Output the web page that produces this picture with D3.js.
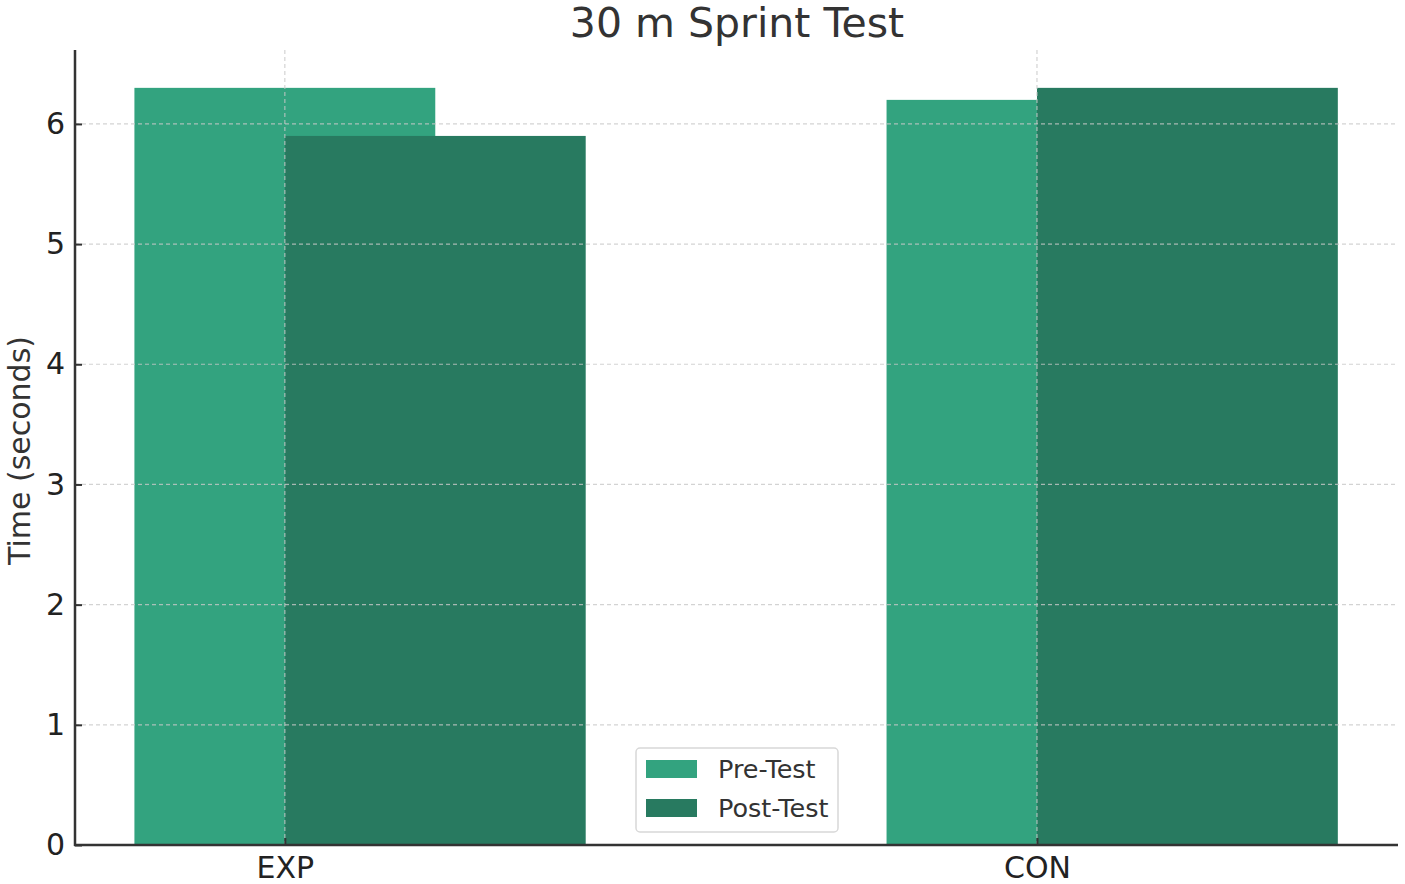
<!DOCTYPE html>
<html>
<head>
<meta charset="utf-8">
<script src="https://cdn.jsdelivr.net/npm/d3@7"></script>
<style>
  body { margin: 0; background: #fff; }
  text { font-family: "DejaVu Sans", sans-serif; }
</style>
</head>
<body>
<script>
const groups = ["EXP", "CON"];
const preTest = [6.3, 6.2];
const postTest = [5.9, 6.3];
const yTicks = [0, 1, 2, 3, 4, 5, 6];
const seriesNames = ["Pre-Test", "Post-Test"];
const colors = ["#33a37f", "#287a60"];

const w = 1405, h = 884;
const plotL = 75, plotR = 1398, plotT = 50, plotB = 845;

const svg = d3.select("body").append("svg")
  .attr("width", w).attr("height", h);

// categories at index 0,1 ; bar width 0.4, second series shifted by half a bar
const barW = 0.4;
const x = d3.scaleLinear().domain([-0.279, 1.48]).range([plotL, plotR]);
const y = d3.scaleLinear().domain([0, 6.615]).range([plotB, plotT]);

const series = [preTest, postTest];
series.forEach((vals, s) => {
  svg.append("g").selectAll("rect")
    .data(vals)
    .enter().append("rect")
    .attr("x", (d, i) => x(i - barW / 2 + s * barW / 2))
    .attr("width", x(barW) - x(0))
    .attr("y", d => y(d))
    .attr("height", d => y(0) - y(d))
    .attr("fill", colors[s]);
});

// grid on top of bars
const grid = svg.append("g");
grid.selectAll("line.h").data(yTicks.slice(1)).enter().append("line")
  .attr("x1", plotL).attr("x2", plotR)
  .attr("y1", d => y(d)).attr("y2", d => y(d))
  .attr("stroke", "#c8c8c8").attr("stroke-opacity", 0.8)
  .attr("stroke-width", 1.2).attr("stroke-dasharray", "4,3");
grid.selectAll("line.v").data(groups).enter().append("line")
  .attr("x1", (d, i) => x(i)).attr("x2", (d, i) => x(i))
  .attr("y1", plotT).attr("y2", plotB)
  .attr("stroke", "#c8c8c8").attr("stroke-opacity", 0.8)
  .attr("stroke-width", 1.2).attr("stroke-dasharray", "4,3");

// axes with inward ticks
const yAxis = d3.axisLeft(y).tickValues(yTicks).tickFormat(d3.format("d"))
  .tickSize(-7).tickPadding(10);
const gy = svg.append("g").attr("transform", `translate(${plotL},0)`).call(yAxis);
gy.select(".domain").remove();
gy.selectAll("text").attr("font-size", 30).attr("fill", "#222")
  .attr("font-family", "DejaVu Sans");
gy.selectAll("line").attr("stroke", "#333").attr("stroke-width", 2);

const xAxis = d3.axisBottom(x).tickValues([0, 1]).tickFormat((d) => groups[d])
  .tickSize(-7).tickPadding(12);
const gx = svg.append("g").attr("transform", `translate(0,${plotB})`).call(xAxis);
gx.select(".domain").remove();
gx.selectAll("text").attr("font-size", 30).attr("fill", "#222")
  .attr("font-family", "DejaVu Sans");
gx.selectAll("line").attr("stroke", "#333").attr("stroke-width", 2);

// spines
svg.append("line").attr("x1", plotL).attr("x2", plotL).attr("y1", plotT).attr("y2", plotB + 1)
  .attr("stroke", "#333").attr("stroke-width", 2.5);
svg.append("line").attr("x1", plotL - 1).attr("x2", plotR).attr("y1", plotB).attr("y2", plotB)
  .attr("stroke", "#333").attr("stroke-width", 2.5);

// title
svg.append("text")
  .attr("x", 737).attr("y", 37)
  .attr("text-anchor", "middle").attr("font-size", 41).attr("fill", "#333")
  .text("30 m Sprint Test");

// y label
svg.append("text")
  .attr("transform", `translate(30,${(plotT + plotB) / 2 + 3}) rotate(-90)`)
  .attr("text-anchor", "middle").attr("font-size", 30).attr("fill", "#333")
  .text("Time (seconds)");

// legend
const lg = svg.append("g").attr("transform", "translate(636,748)");
lg.append("rect").attr("width", 202).attr("height", 84).attr("rx", 4)
  .attr("fill", "#fff").attr("fill-opacity", 0.8)
  .attr("stroke", "#d8d8d8").attr("stroke-width", 1.5);
seriesNames.forEach((n, i) => {
  lg.append("rect").attr("x", 10).attr("y", 12 + i * 39)
    .attr("width", 51).attr("height", 18).attr("fill", colors[i]);
  lg.append("text").attr("x", 82).attr("y", 30 + i * 39)
    .attr("font-size", 25.5).attr("fill", "#333").text(n);
});
</script>
</body>
</html>
